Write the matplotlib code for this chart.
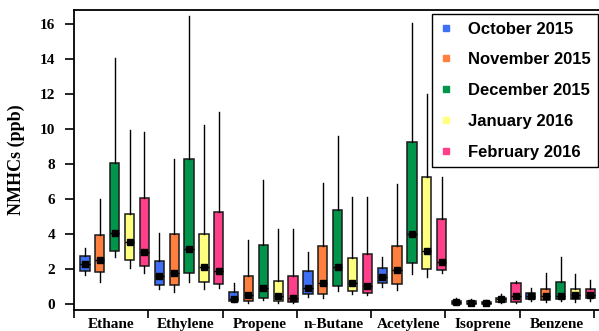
import matplotlib
matplotlib.use("Agg")
import matplotlib.pyplot as plt
import numpy as np
from matplotlib.lines import Line2D

species = ["Ethane", "Ethylene", "Propene", "n-Butane", "Acetylene", "Isoprene", "Benzene"]
months = ["October 2015", "November 2015", "December 2015", "January 2016", "February 2016"]
colors = ["#3f6ff5", "#ff7f3f", "#00954a", "#ffff80", "#ff3f8a"]

# rows = months, columns = species
whishi = [
    [3.20, 4.06, 1.20, 2.97, 2.69, 0.38, 0.91],
    [6.02, 8.29, 3.67, 6.93, 6.85, 0.29, 1.77],
    [14.05, 16.47, 7.09, 9.62, 16.06, 0.25, 2.69],
    [9.96, 10.23, 4.32, 6.13, 12.02, 0.57, 1.71],
    [9.83, 10.97, 4.28, 6.11, 7.29, 1.33, 1.39],
]
q3 = [
    [2.76, 2.49, 0.71, 1.92, 2.09, 0.20, 0.64],
    [3.96, 4.00, 1.62, 3.33, 3.35, 0.18, 0.87],
    [8.09, 8.32, 3.39, 5.39, 9.26, 0.15, 1.28],
    [5.18, 4.02, 1.35, 2.66, 7.29, 0.38, 0.85],
    [6.09, 5.29, 1.62, 2.87, 4.89, 1.20, 0.85],
]
med = [
    [2.29, 1.60, 0.33, 0.93, 1.56, 0.11, 0.46],
    [2.53, 1.77, 0.51, 1.22, 1.96, 0.10, 0.45],
    [4.06, 3.14, 0.93, 2.13, 4.00, 0.08, 0.50],
    [3.54, 2.15, 0.47, 1.20, 3.03, 0.29, 0.52],
    [2.97, 1.89, 0.34, 1.05, 2.40, 0.47, 0.54],
]
q1 = [
    [1.90, 1.10, 0.18, 0.57, 1.20, 0.02, 0.29],
    [1.83, 1.09, 0.17, 0.59, 1.16, 0.03, 0.25],
    [3.05, 1.81, 0.38, 1.05, 2.34, 0.02, 0.29],
    [2.53, 1.26, 0.17, 0.76, 2.00, 0.11, 0.30],
    [2.21, 1.18, 0.13, 0.65, 1.94, 0.15, 0.34],
]
whislo = [
    [1.66, 0.89, 0.15, 0.43, 0.97, 0.00, 0.20],
    [1.27, 0.69, 0.10, 0.34, 0.83, 0.00, 0.13],
    [2.69, 1.29, 0.23, 0.74, 1.71, 0.00, 0.19],
    [2.06, 0.86, 0.10, 0.59, 1.54, 0.06, 0.15],
    [1.77, 0.93, 0.08, 0.51, 1.77, 0.10, 0.19],
]

serif = "Liberation Serif"
sans = "Liberation Sans"

fig = plt.figure(figsize=(5.99, 3.31), dpi=100)
ax = fig.add_axes([74 / 599, 1 - 310 / 331, 1 - 74 / 599, (310 - 9.5) / 331])

offset = -0.352  # first box relative to group centre
step = 0.2
for j, month in enumerate(months):
    stats = []
    for i in range(len(species)):
        stats.append(dict(whislo=whislo[j][i], q1=q1[j][i], med=med[j][i],
                          q3=q3[j][i], whishi=whishi[j][i], mean=med[j][i]))
    pos = [i + offset + step * j for i in range(len(species))]
    ax.bxp(stats, positions=pos, widths=0.125, patch_artist=True,
           showcaps=False, showmeans=True, showfliers=False,
           boxprops=dict(facecolor=colors[j], edgecolor="#1a1a1a", linewidth=1.1),
           whiskerprops=dict(color="black", linewidth=1.0),
           medianprops=dict(color="black", linewidth=1.0),
           meanprops=dict(marker="s", markerfacecolor="black",
                          markeredgecolor="black", markersize=4.3))

ax.set_xlim(-0.5, 6.566)
ax.set_ylim(-0.326, 16.85)

# group separators as major ticks, names on minor ticks
ax.set_xticks(np.arange(-0.5, 7, 1))
ax.set_xticklabels([])
ax.set_xticks(np.arange(len(species)), minor=True)
ax.set_xticklabels(species, minor=True, fontfamily=serif, fontweight="bold", fontsize=11)
ax.tick_params(axis="x", which="major", direction="out", length=6, width=1.2)
ax.tick_params(axis="x", which="minor", length=0, pad=6)

ax.set_yticks(np.arange(0, 17, 2))
ax.set_yticklabels([str(v) for v in range(0, 17, 2)], fontfamily=serif,
                   fontweight="bold", fontsize=11)
ax.tick_params(axis="y", direction="out", length=6.5, width=1.2, pad=7)

ax.set_ylabel("NMHCs (ppb)", fontfamily=serif, fontweight="bold", fontsize=13)
ax.yaxis.set_label_coords(-0.093, 0.5)

for side in ["left", "bottom", "top"]:
    ax.spines[side].set_linewidth(1.3)
ax.spines["right"].set_visible(False)

handles = [Line2D([0], [0], marker="s", linestyle="none", markersize=5,
                  markerfacecolor=c, markeredgecolor=c, label=m)
           for c, m in zip(colors, months)]
leg = ax.legend(handles=handles, loc="upper right",
                bbox_to_anchor=(598 / 599, 1 - 14 / 331), bbox_transform=fig.transFigure,
                borderaxespad=0, frameon=True, fancybox=False, edgecolor="black",
                framealpha=1, handlelength=0.8, handletextpad=0.9, borderpad=0.45,
                labelspacing=0.95, prop=dict(family=sans, weight="bold", size=12))
leg.get_frame().set_linewidth(1.0)

fig.savefig("out.png", dpi=100)
